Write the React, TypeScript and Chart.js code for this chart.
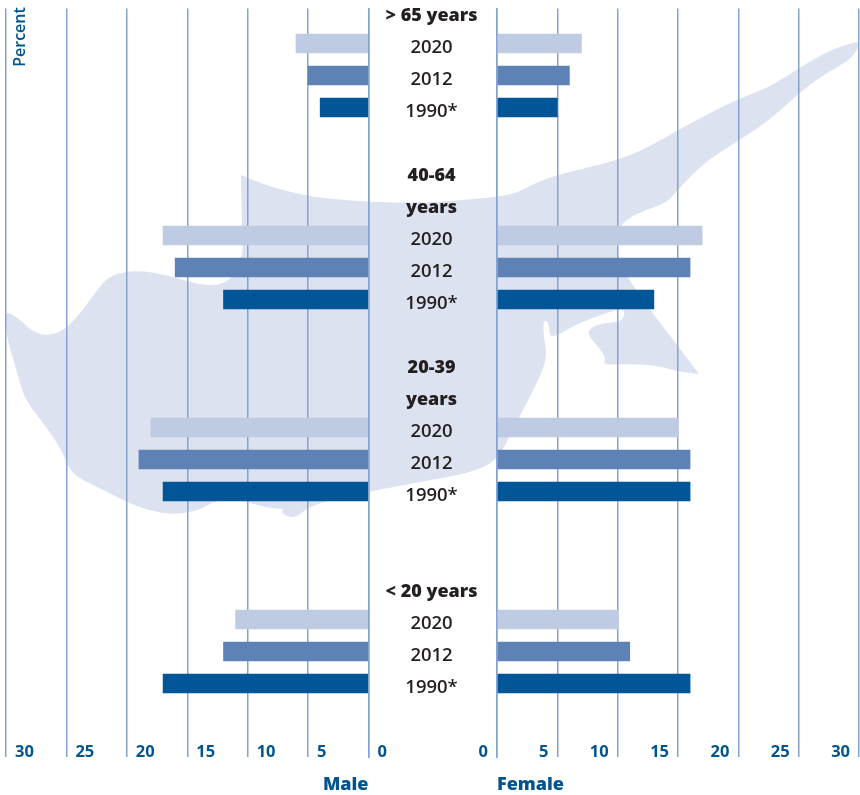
import React, { useEffect, useRef } from "react";
import { Chart, registerables } from "chart.js";

Chart.register(...registerables);

const rowLabels = [
  "> 65 years", "2020", "2012", "1990*", "",
  "40-64", "years", "2020", "2012", "1990*", "",
  "20-39", "years", "2020", "2012", "1990*", "", "",
  "< 20 years", "2020", "2012", "1990*",
];
const headingRows = [0, 5, 6, 11, 12, 18];
const rows2020 = [1, 7, 13, 19];
const rows2012 = [2, 8, 14, 20];
const rows1990 = [3, 9, 15, 21];

const male2020 = [6, 17, 18, 11];
const male2012 = [5, 16, 19, 12];
const male1990 = [4, 12, 17, 17];
const female2020 = [7, 17, 15, 10];
const female2012 = [6, 16, 16, 11];
const female1990 = [5, 13, 16, 16];

const COLOR_2020 = "#bfcae3";
const COLOR_2012 = "#5f82b6";
const COLOR_1990 = "#025597";
const GRID = "#86a2cf";
const BLUE = "#00558f";
const INK = "#231f20";
const FONT = "'Open Sans', sans-serif";

// Backdrop silhouette of the island (decoration, not data).
const island: [number, number][] = [
  [241, 175], [262, 184], [290, 192], [320, 198], [370, 202], [430, 203], [497, 197], [517, 193],
  [535, 183], [557, 175], [590, 167], [617, 160], [643, 150], [678, 130], [710, 113], [738, 99],
  [770, 87], [799, 68], [830, 50], [852, 43], [859, 42], [858, 48], [850, 60], [823, 75], [799, 93],
  [770, 120], [738, 141], [705, 162], [680, 187], [667, 203], [640, 212], [623, 222], [615, 235],
  [618, 255], [627, 277], [650, 310], [675, 342], [699, 374], [699, 374], [680, 372], [655, 365], [625, 364],
  [603, 365], [606, 357], [595, 343], [588, 335], [590, 328], [603, 323], [620, 322], [625, 315],
  [623, 308], [600, 315], [575, 325], [558, 335], [550, 337], [549, 327], [547, 320], [543, 322],
  [544, 340], [547, 353], [543, 370], [530, 397], [515, 425], [497, 462], [465, 474], [430, 480],
  [368, 492], [335, 498], [307, 508], [297, 517], [287, 517], [281, 512], [285, 509], [267, 508],
  [248, 502], [230, 498], [213, 502], [200, 510], [173, 515], [147, 510], [127, 502], [97, 487],
  [77, 477], [68, 467], [63, 453], [50, 432], [27, 402], [22, 390], [12, 355], [7, 337], [4, 317],
  [7, 312], [17, 317], [33, 332], [48, 336], [65, 330], [83, 310], [97, 290], [110, 275], [137, 270],
  [167, 275], [200, 285], [220, 285], [233, 277], [243, 257], [242, 227], [241, 175],
];

function islandPath(): string {
  let d = `M ${island[0][0]} ${island[0][1]}`;
  for (let i = 1; i < island.length - 1; i++) {
    const [x, y] = island[i];
    const [nx, ny] = island[i + 1];
    d += ` Q ${x} ${y} ${(x + nx) / 2} ${(y + ny) / 2}`;
  }
  const last = island[island.length - 1];
  return d + ` L ${last[0]} ${last[1]} Z`;
}

function series(values: number[], rows: number[]) {
  return values.map((v, i) => ({ x: v, y: rows[i] }));
}

function datasets(a: number[], b: number[], c: number[]) {
  const common = { barThickness: 19, grouped: false, borderWidth: 0 };
  return [
    { label: "2020", data: series(a, rows2020), backgroundColor: COLOR_2020, ...common },
    { label: "2012", data: series(b, rows2012), backgroundColor: COLOR_2012, ...common },
    { label: "1990*", data: series(c, rows1990), backgroundColor: COLOR_1990, ...common },
  ];
}

const maleExtras = {
  id: "maleExtras",
  afterDraw(chart: any) {
    const { ctx, chartArea } = chart;
    ctx.save();
    ctx.translate(20.5, 37);
    ctx.rotate(-Math.PI / 2);
    ctx.font = `600 16px ${FONT}`;
    ctx.fillStyle = BLUE;
    ctx.textAlign = "center";
    ctx.textBaseline = "middle";
    ctx.fillText("Percent", 0, 0);
    ctx.restore();
    ctx.save();
    ctx.font = `800 18px ${FONT}`;
    ctx.fillStyle = BLUE;
    ctx.textAlign = "right";
    ctx.textBaseline = "middle";
    ctx.fillText("Male", chartArea.right, 785);
    ctx.restore();
  },
};

function xAxis(isMale: boolean) {
  return {
    type: "linear",
    position: "bottom",
    min: 0,
    max: 30,
    reverse: isMale,
    afterFit: (s: any) => {
      s.height = 38;
      s.paddingLeft = 0;
      s.paddingRight = 0;
    },
    afterBuildTicks: (s: any) => { s.ticks = [0, 5, 10, 15, 20, 25, 30].map((value) => ({ value })); },
    grid: { color: GRID, lineWidth: 1.5, drawTicks: false },
    border: { display: false },
    ticks: {
      mirror: true,
      padding: -5,
      align: isMale ? "start" : "end",
      labelOffset: isMale ? 9 : -9,
      autoSkip: false,
      maxRotation: 0,
      color: BLUE,
      font: { family: FONT, size: 16.5, weight: "700" },
    },
    title: {
      display: !isMale,
      text: "Female",
      align: "start",
      color: BLUE,
      font: { family: FONT, size: 18, weight: "800" },
      padding: { top: 0, bottom: -1 },
    },
  };
}

function yAxis(isMale: boolean) {
  return {
    type: "linear",
    position: isMale ? "right" : "left",
    reverse: true,
    offset: false,
    min: -0.094,
    max: 23.297,
    afterFit: (s: any) => {
      s.width = isMale ? 128.5 : 0;
      s.paddingTop = 0;
      s.paddingBottom = 0;
    },
    afterBuildTicks: (s: any) => { s.ticks = rowLabels.map((_, value) => ({ value })); },
    grid: { display: false, offset: false },
    border: { display: true, color: GRID, width: 1.5, z: 1 },
    ticks: isMale
      ? {
          display: true,
          autoSkip: false,
          padding: 9,
          labelOffset: 4.5,
          crossAlign: "center",
          color: INK,
          callback: (v: number) => rowLabels[v] ?? "",
          font: (ctx: any) => {
            const heading = headingRows.includes(ctx.index);
            return { family: FONT, size: heading ? 18 : 18.5, weight: heading ? "800" : "600" };
          },
        }
      : { display: false },
  };
}

function baseOptions(isMale: boolean): any {
  return {
    indexAxis: "y",
    animation: false,
    responsive: false,
    maintainAspectRatio: false,
    layout: {
      padding: isMale
        ? { left: 6, right: 363, top: 8.5, bottom: 0 }
        : { left: 497, right: 1, top: 8.5, bottom: 0 },
    },
    plugins: { legend: { display: false }, title: { display: false }, tooltip: { enabled: false } },
    scales: { x: xAxis(isMale), y: yAxis(isMale) },
  };
}

export default function App() {
  const maleRef = useRef<HTMLCanvasElement>(null);
  const femaleRef = useRef<HTMLCanvasElement>(null);

  useEffect(() => {
    const male = new Chart(maleRef.current!, {
      type: "bar",
      data: { datasets: datasets(male2020, male2012, male1990) as any },
      options: baseOptions(true),
      plugins: [maleExtras],
    });
    const female = new Chart(femaleRef.current!, {
      type: "bar",
      data: { datasets: datasets(female2020, female2012, female1990) as any },
      options: baseOptions(false),
    });
    return () => {
      male.destroy();
      female.destroy();
    };
  }, []);

  const layer: React.CSSProperties = { position: "absolute", left: 0, top: 0, width: 860, height: 795 };
  return (
    <div style={{ position: "absolute", left: 0, top: 0, width: 860, height: 795, background: "#fff", overflow: "hidden" }}>
      <svg style={layer} width={860} height={795} viewBox="0 0 860 795">
        <path d={islandPath()} fill="#dde2f1" />
      </svg>
      <canvas ref={maleRef} width={860} height={795} style={layer} />
      <canvas ref={femaleRef} width={860} height={795} style={layer} />
    </div>
  );
}
